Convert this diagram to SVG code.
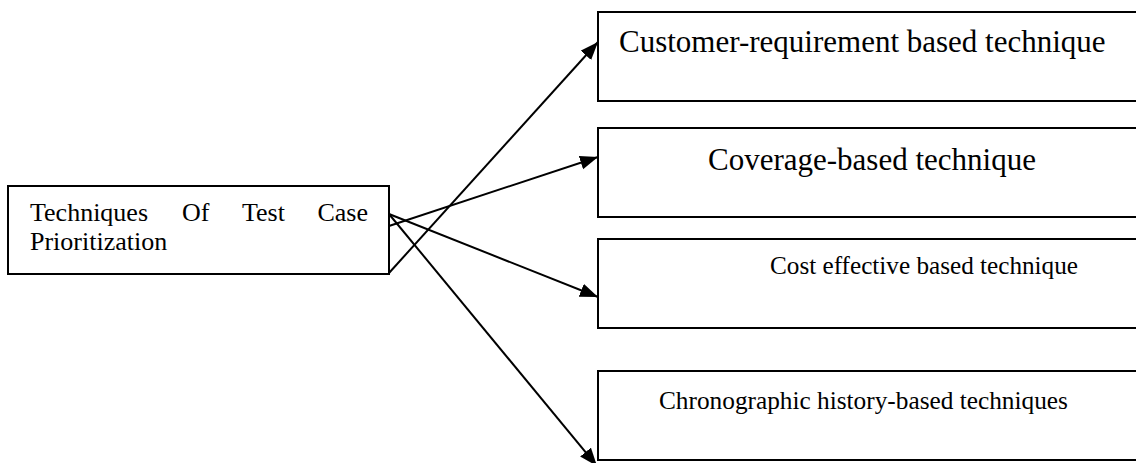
<svg xmlns="http://www.w3.org/2000/svg" width="1136" height="463" viewBox="0 0 1136 463">
<style>
.box{fill:#fff;stroke:#000;stroke-width:2}
.t{font-family:"Liberation Serif","Times New Roman",serif;fill:#000}
.c{stroke:#000;stroke-width:2;fill:none}
</style>
<defs>
<marker id="ah" markerUnits="userSpaceOnUse" markerWidth="19" markerHeight="15" refX="18" refY="7" orient="auto">
<path d="M0,0 L18,7 L0,14 Z" fill="#000"/>
</marker>
</defs>
<rect width="1136" height="463" fill="#fff"/>
<g id="root">
<rect class="box" x="8" y="186" width="381" height="88"/>
<text class="t" font-size="26" x="30" y="221">Techniques</text>
<text class="t" font-size="26" x="182" y="221">Of</text>
<text class="t" font-size="26" x="242" y="221">Test</text>
<text class="t" font-size="26" x="368" y="221" text-anchor="end">Case</text>
<text class="t" font-size="26" x="30" y="250">Prioritization</text>
</g>
<g id="n1">
<rect class="box" x="598" y="12" width="545" height="89"/>
<text class="t" font-size="31" x="619" y="52">Customer-requirement based technique</text>
</g>
<g id="n2">
<rect class="box" x="598" y="128" width="545" height="89"/>
<text class="t" font-size="31" x="708" y="170">Coverage-based technique</text>
</g>
<g id="n3">
<rect class="box" x="598" y="239" width="545" height="89"/>
<text class="t" font-size="25.2" x="770" y="274">Cost effective based technique</text>
</g>
<g id="n4">
<rect class="box" x="598" y="371" width="545" height="89"/>
<text class="t" font-size="25.3" x="659" y="409">Chronographic history-based techniques</text>
</g>
<g id="connectors">
<line class="c" x1="389" y1="273" x2="598" y2="42" marker-end="url(#ah)"/>
<line class="c" x1="389" y1="226" x2="598" y2="157" marker-end="url(#ah)"/>
<line class="c" x1="389" y1="214" x2="598" y2="297" marker-end="url(#ah)"/>
<line class="c" x1="389" y1="214" x2="597" y2="466" marker-end="url(#ah)"/>
</g>
</svg>
